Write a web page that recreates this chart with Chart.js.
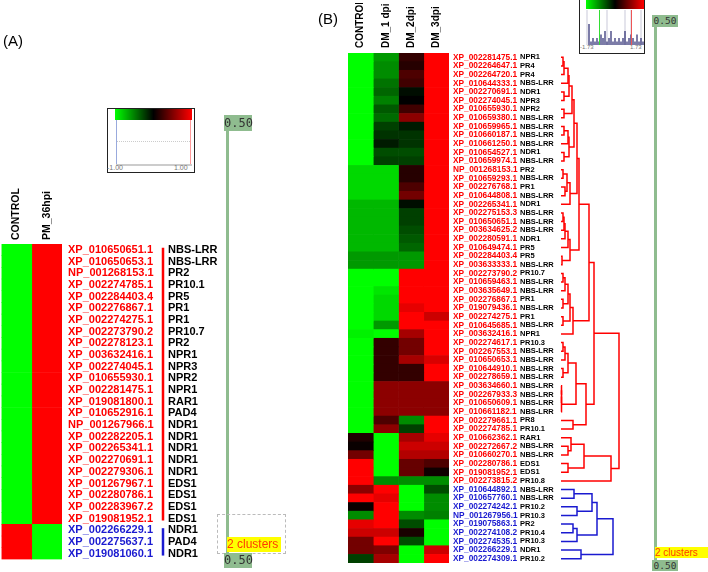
<!DOCTYPE html>
<html>
<head>
<meta charset="utf-8">
<script src="https://cdn.jsdelivr.net/npm/chart.js@4.4.0/dist/chart.umd.min.js"></script>
<style>
  html, body { margin: 0; padding: 0; background: #fff; }
  #wrap { position: relative; width: 708px; height: 572px; overflow: hidden; font-family: 'Liberation Sans', Arial, sans-serif; }
  #wrap canvas { position: absolute; }
  .abs { position: absolute; }
  .panel { font-size: 15px; color: #000; }
  .cutline { position: absolute; background: #8fbc8f; }
  .cut { position: absolute; background: #8fbc8f; color: #333; font-family: 'DejaVu Sans Mono', monospace; text-align: center; }
  .clusters { position: absolute; background: #ffff00; color: #ff3c00; font-family: 'Liberation Sans', Arial, sans-serif; white-space: nowrap; }
  .legbox { position: absolute; border: 1.5px solid #222; background: #fff; box-sizing: border-box; }
  .ramp { position: absolute; background: linear-gradient(to right, #00ff00, #000 50%, #ff0000); }
  .tiny { position: absolute; color: #777; font-size: 7px; white-space: nowrap; }
</style>
</head>
<body>
<div id="wrap">
  <canvas id="heatA" width="330" height="572" style="left:0; top:0;"></canvas>
  <canvas id="heatB" width="378" height="572" style="left:330px; top:0;"></canvas>

  <div class="abs panel" style="left:3px; top:32px;">(A)</div>
  <div class="abs panel" style="left:318px; top:10px;">(B)</div>

  <!-- colour key A -->
  <div class="legbox" style="left:107px; top:108px; width:88px; height:65px;">
    <div class="ramp" style="left:7px; top:0; width:77px; height:11px;"></div>
    <div class="abs" style="left:8px; top:11px; width:1px; height:44px; background:#9ad;"></div>
    <div class="abs" style="left:82px; top:11px; width:1px; height:44px; background:#f99;"></div>
    <div class="abs" style="left:9px; top:32px; width:73px; border-top:1px dotted #ccc;"></div>
    <div class="abs" style="left:8px; top:55px; width:76px; height:2px; background:#ccc;"></div>
    <div class="tiny" style="left:-1px; top:55px;">-1.00</div>
    <div class="tiny" style="left:66px; top:55px;">1.00</div>
  </div>

  <!-- colour key B -->
  <div class="legbox" style="left:579px; top:-1px; width:66px; height:55px;">
    <div class="ramp" style="left:6px; top:0; width:58px; height:9px;"></div>
    <div class="tiny" style="left:0px; top:44px; font-size:6px;">-1.73</div>
    <div class="tiny" style="left:50px; top:44px; font-size:6px;">1.73</div>
  </div>
  <canvas id="histB" width="58" height="35" style="left:586px; top:10px;"></canvas>
  <div class="abs" style="left:599px; top:10px; width:1px; height:35px; background:#33dd33;"></div>
  <div class="abs" style="left:631px; top:10px; width:1px; height:35px; background:#ee5555;"></div>

  <!-- cut line A -->
  <div class="cutline" style="left:226px; top:131px; width:3px; height:422px;"></div>
  <div class="cut" style="left:224px; top:115px; width:28px; height:16px; font-size:12px; line-height:16px;">0.50</div>
  <div class="abs" style="left:217px; top:514px; width:69px; height:40px; border:1px dashed #bbb; box-sizing:border-box;"></div>
  <div class="clusters" style="left:227px; top:537px; width:54px; height:15px; font-size:12px; line-height:15px;">2 clusters</div>
  <div class="cut" style="left:224px; top:553px; width:28px; height:15px; font-size:12px; line-height:15px;">0.50</div>

  <!-- cut line B -->
  <div class="cutline" style="left:654px; top:27px; width:3px; height:533px;"></div>
  <div class="cut" style="left:652px; top:15px; width:26px; height:12px; font-size:9.5px; line-height:12px;">0.50</div>
  <div class="clusters" style="left:655px; top:547px; width:53px; height:11px; font-size:10px; line-height:11px;">2 clusters</div>
  <div class="cut" style="left:652px; top:560px; width:26px; height:11px; font-size:9.5px; line-height:11px;">0.50</div>
</div>

<script>
// ---- Panel A data (PM 36 hpi) ----
const colsA = ['CONTROL', 'PM_36hpi'];
const idsA = [
  'XP_010650651.1', 'XP_010650653.1', 'NP_001268153.1', 'XP_002274785.1', 'XP_002284403.4',
  'XP_002276867.1', 'XP_002274275.1', 'XP_002273790.2', 'XP_002278123.1', 'XP_003632416.1',
  'XP_002274045.1', 'XP_010655930.1', 'XP_002281475.1', 'XP_019081800.1', 'XP_010652916.1',
  'NP_001267966.1', 'XP_002282205.1', 'XP_002265341.1', 'XP_002270691.1', 'XP_002279306.1',
  'XP_001267967.1', 'XP_002280786.1', 'XP_002283967.2', 'XP_019081952.1',
  'XP_002266229.1', 'XP_002275637.1', 'XP_019081060.1'
];
const genesA = [
  'NBS-LRR', 'NBS-LRR', 'PR2', 'PR10.1', 'PR5', 'PR1', 'PR1', 'PR10.7', 'PR2', 'NPR1',
  'NPR3', 'NPR2', 'NPR1', 'RAR1', 'PAD4', 'NDR1', 'NDR1', 'NDR1', 'NDR1', 'NDR1',
  'EDS1', 'EDS1', 'EDS1', 'EDS1', 'NDR1', 'PAD4', 'NDR1'
];
const controlA = [-1,-1,-1,-1,-1,-1,-1,-1,-1,-1,-1,-1,-1,-1,-1,-1,-1,-1,-1,-1,-1,-1,-1,-1, 1, 1, 1];
const pm36A    = [ 1, 1, 1, 1, 1, 1, 1, 1, 1, 1, 1, 1, 1, 1, 1, 1, 1, 1, 1, 1, 1, 1, 1, 1,-1,-1,-1];
const redRowsA = 24;

// ---- Panel B data (DM 1-3 dpi) ----
const colsB = ['CONTROL', 'DM_1 dpi', 'DM_2dpi', 'DM_3dpi'];
const idsB = [
  'XP_002281475.1', 'XP_002264647.1', 'XP_002264720.1', 'XP_010644333.1', 'XP_002270691.1',
  'XP_002274045.1', 'XP_010655930.1', 'XP_010659380.1', 'XP_010659965.1', 'XP_010660187.1',
  'XP_010661250.1', 'XP_010654527.1', 'XP_010659974.1', 'NP_001268153.1', 'XP_010659293.1',
  'XP_002276768.1', 'XP_010644808.1', 'XP_002265341.1', 'XP_002275153.3', 'XP_010650651.1',
  'XP_003634625.2', 'XP_002280591.1', 'XP_010649474.1', 'XP_002284403.4', 'XP_003633333.1',
  'XP_002273790.2', 'XP_010659463.1', 'XP_003635649.1', 'XP_002276867.1', 'XP_019079436.1',
  'XP_002274275.1', 'XP_010645685.1', 'XP_003632416.1', 'XP_002274617.1', 'XP_002267553.1',
  'XP_010650653.1', 'XP_010644910.1', 'XP_002278659.1', 'XP_003634660.1', 'XP_002267933.3',
  'XP_010650609.1', 'XP_010661182.1', 'XP_002279661.1', 'XP_002274785.1', 'XP_010662362.1',
  'XP_002272667.2', 'XP_010660270.1', 'XP_002280786.1', 'XP_019081952.1', 'XP_002273815.2',
  'XP_010644892.1', 'XP_010657760.1', 'XP_002274242.1', 'NP_001267956.1', 'XP_019075863.1',
  'XP_002274108.2', 'XP_002274535.1', 'XP_002266229.1', 'XP_002274309.1'
];
const genesB = [
  'NPR1', 'PR4', 'PR4', 'NBS-LRR', 'NDR1', 'NPR3', 'NPR2', 'NBS-LRR', 'NBS-LRR', 'NBS-LRR',
  'NBS-LRR', 'NDR1', 'NBS-LRR', 'PR2', 'NBS-LRR', 'PR1', 'NBS-LRR', 'NDR1', 'NBS-LRR', 'NBS-LRR',
  'NBS-LRR', 'NDR1', 'PR5', 'PR5', 'NBS-LRR', 'PR10.7', 'NBS-LRR', 'NBS-LRR', 'PR1', 'NBS-LRR',
  'PR1', 'NBS-LRR', 'NPR1', 'PR10.3', 'NBS-LRR', 'NBS-LRR', 'NBS-LRR', 'NBS-LRR', 'NBS-LRR', 'NBS-LRR',
  'NBS-LRR', 'NBS-LRR', 'PR8', 'PR10.1', 'RAR1', 'NBS-LRR', 'NBS-LRR', 'EDS1', 'EDS1', 'PR10.8',
  'NBS-LRR', 'NBS-LRR', 'PR10.2', 'PR10.3', 'PR2', 'PR10.4', 'PR10.3', 'NDR1', 'PR10.2'
];
const controlB = [
  -1, -1, -1, -1, -1, -1, -1, -1, -1, -1, -1, -1, -1, -0.85, -0.85, -0.85, -0.85, -0.72, -0.72, -0.72,
  -0.72, -0.72, -0.72, -0.6, -0.6, -1, -1, -1, -1, -1, -1, -1, -0.95, -1, -1, -1, -1, -1, -1, -1,
  -1, -1, -1, -1, 0.12, 0.04, 0.45, 1, 1, 1, 0.55, 1, 0.04, -0.55, 0.9, 0.8, 0.45, 0.45, -0.25
];
const dm1B = [
  -0.6, -0.55, -0.55, -0.45, -0.4, -0.5, -0.35, -0.42, -0.25, -0.2, -0.1, -0.3, -0.25, -0.85, -0.85, -0.85, -0.85, -0.72, -0.72, -0.72,
  -0.72, -0.72, -0.72, -0.6, -0.6, -1, -1, -0.9, -0.85, -0.85, -0.85, -0.6, -1, 0.2, 0.2, 0.2, 0.2, 0.2, 0.55, 0.55,
  0.55, 0.55, 0.3, 0.55, -1, -1, -1, -1, -1, -0.55, 1, 0.9, 1, 1, 1, 0.8, 1, 0.5, 0.65
];
const dm2B = [
  0.2, 0.15, 0.3, 0.25, -0.05, 0, 0.25, 0.55, -0.1, -0.2, -0.2, -0.3, -0.25, 0.15, 0.15, 0.3, 0.45, -0.05, -0.25, -0.25,
  -0.3, -0.35, -0.4, -0.6, -0.6, 1, 1, 1, 1, 0.9, 1, 1, 0.65, 0.45, 0.45, 0.65, 0.2, 0.2, 0.55, 0.55,
  0.55, 0.55, -0.55, -0.25, 0.65, 0.8, 0.7, 0.4, 0.4, -0.55, -1, -1, -1, -0.55, -0.3, 0.1, -0.3, -1, -1
];
const dm3B = [
  1, 1, 1, 1, 1, 1, 1, 1, 1, 1, 1, 1, 1, 1, 1, 1, 1, 1, 1, 1,
  1, 1, 1, 1, 1, 1, 1, 1, 1, 1, 0.8, 1, 1, 1, 1, 0.85, 1, 1, 0.55, 0.55,
  0.55, 0.55, 1, 1, 0.9, 0.8, 0.7, 0.3, 0.06, -0.55, -0.3, -0.55, -0.55, -0.5, -1, -1, -1, 0.8, 1
];
const redRowsB = 50;

// dendrogram of panel B: [height, left, right], leaves are row numbers (1-based)
const treeRedB = [0.58,
  [0.33,
    [0.28,
      [0.18,
        [0.16,
          [0.13,
            [0.11, [0.08, [0.07, [0.03, [0.02, 1, 2], 3], 4], [0.03, 5, 6]], [0.03, 7, 8]],
            [0.08, [0.07, [0.03, 9, 10], 11], [0.03, 12, 13]]
          ],
          [0.09, [0.06, [0.02, 14, 15], [0.04, 16, 17]], 18]
        ],
        [0.09, [0.07, [0.04, [0.03, [0.02, 19, 20], 21], 22], 23], [0.01, 24, 25]]
      ],
      [0.12, [0.09, [0.07, [0.04, [0.02, 26, 27], 28], [0.02, 29, 30]], [0.02, 31, 32]], 33]
    ],
    [0.25, [0.15, [0.07, [0.04, [0.02, 34, 35], 36], [0.02, 37, 38]], [0.005, [0.005, [0.005, 39, 40], 41], 42]], [0.12, 43, 44]]
  ],
  [0.50, [0.23, [0.10, 45, [0.07, 46, 47]], [0.07, 48, 49]], 50]
];
const treeBlueB = [0.52, [0.36, [0.31, [0.13, 51, 52], [0.16, 53, 54]], [0.16, [0.12, 55, 56], 57]], [0.20, 58, 59]];

// colour-key histogram of panel B (counts per bin, -1.73 .. 1.73)
const histCountsB = [0, 6, 1, 2, 1, 2, 1, 3, 2, 4, 1, 2, 4, 1, 2, 1, 2, 1, 2, 4, 1, 2, 3, 2, 1, 3, 1, 2, 1];
const histGuideB  = [10, 0, 0, 0, 0, 0, 0, 0, 0, 0, 10, 0, 0, 0, 0, 0, 0, 0, 0, 10, 0, 0, 10, 0, 0, 0, 0, 10, 0];

const RED = '#ff0000';
const BLUE = '#1a1ad0';

function heatColor(v) {
  return v >= 0 ? `rgb(${Math.round(255 * v)},0,0)` : `rgb(0,${Math.round(-255 * v)},0)`;
}

function heatDatasets(columns) {
  return columns.map(col => ({
    data: col.map(() => 1),
    backgroundColor: col.map(heatColor),
    borderWidth: 0,
    barPercentage: 1,
    categoryPercentage: 1
  }));
}

// draws a dendrogram node, returns its anchor point
function drawNode(ctx, node, yScale, x0, k) {
  if (typeof node === 'number') return { x: x0, y: yScale.getPixelForValue(node - 1) };
  const a = drawNode(ctx, node[1], yScale, x0, k);
  const b = drawNode(ctx, node[2], yScale, x0, k);
  const x = x0 + node[0] * k;
  ctx.beginPath();
  ctx.moveTo(a.x, a.y); ctx.lineTo(x, a.y); ctx.lineTo(x, b.y); ctx.lineTo(b.x, b.y);
  ctx.stroke();
  return { x, y: (a.y + b.y) / 2 };
}

const font = (size) => ({ family: "'Liberation Sans', Arial, sans-serif", size, weight: 'bold' });

function heatOptions(o) {
  return {
    indexAxis: 'y',
    responsive: false,
    animation: false,
    events: [],
    layout: { padding: o.padding },
    plugins: { legend: { display: false }, tooltip: { enabled: false } },
    scales: {
      x: { stacked: true, min: 0, max: o.cols.length, display: false },
      top: {
        type: 'category', axis: 'x', labels: o.cols, position: 'top', offset: true,
        grid: { display: false, drawTicks: false }, border: { display: false },
        ticks: { minRotation: 90, maxRotation: 90, padding: o.colPad, labelOffset: o.colSize * 1.2,
                 color: '#000', font: font(o.colSize) },
        afterFit: s => { s.height = o.topH; }
      },
      y: {
        stacked: true, position: 'right', offset: true, weight: 0,
        grid: { display: false, drawTicks: false }, border: { display: false },
        ticks: { autoSkip: false, padding: o.idPad, font: font(o.idSize),
                 color: c => c.index < o.redRows ? RED : BLUE },
        afterFit: s => { s.width = o.idW; }
      },
      gene: {
        type: 'category', axis: 'y', labels: o.genes, position: 'right', offset: true, weight: 1,
        grid: { display: false, drawTicks: false }, border: { display: false },
        ticks: { autoSkip: false, padding: o.genePad, color: '#000', font: font(o.geneSize) },
        afterFit: s => { s.width = o.geneW; }
      }
    }
  };
}

// Panel A: cluster bars between ids and gene names
const barsA = {
  id: 'barsA',
  afterDraw(chart) {
    const { ctx, scales } = chart;
    const y = scales.y;
    const x = y.right - 3;
    ctx.save();
    ctx.lineWidth = 2.5;
    [[0, redRowsA - 1, RED], [redRowsA, idsA.length - 1, BLUE]].forEach(([a, b, c]) => {
      ctx.strokeStyle = c;
      ctx.beginPath();
      ctx.moveTo(x, y.getPixelForValue(a) - 2);
      ctx.lineTo(x, y.getPixelForValue(b) + 2);
      ctx.stroke();
    });
    ctx.restore();
  }
};

// Panel B: hierarchical tree right of gene names
const treeB = {
  id: 'treeB',
  afterDraw(chart) {
    const { ctx, scales } = chart;
    const x0 = scales.gene.right;
    ctx.save();
    ctx.lineWidth = 1.5;
    ctx.strokeStyle = RED;
    drawNode(ctx, treeRedB, scales.y, x0, 100);
    ctx.strokeStyle = BLUE;
    drawNode(ctx, treeBlueB, scales.y, x0, 100);
    ctx.restore();
  }
};

new Chart(document.getElementById('heatA'), {
  type: 'bar',
  data: { labels: idsA, datasets: heatDatasets([controlA, pm36A]) },
  options: heatOptions({
    cols: colsA, genes: genesA, redRows: redRowsA,
    padding: { left: 0, top: 164, right: 104, bottom: 4 },
    topH: 80, colPad: 4, colSize: 10.5,
    idW: 104, idPad: 6, idSize: 11,
    geneW: 60, genePad: 2, geneSize: 11
  }),
  plugins: [barsA]
});

new Chart(document.getElementById('heatB'), {
  type: 'bar',
  data: { labels: idsB, datasets: heatDatasets([controlB, dm1B, dm2B, dm3B]) },
  options: heatOptions({
    cols: colsB, genes: genesB, redRows: redRowsB,
    padding: { left: 18, top: 3, right: 147, bottom: 1 },
    topH: 50, colPad: 5, colSize: 10,
    idW: 71, idPad: 4, idSize: 8.3,
    geneW: 41, genePad: 0, geneSize: 7.5
  }),
  plugins: [treeB]
});

// small histogram inside the colour key of panel B
new Chart(document.getElementById('histB'), {
  type: 'bar',
  data: {
    labels: histCountsB.map((_, i) => i),
    datasets: [
      { data: histCountsB, backgroundColor: '#26266e', barPercentage: 0.6, categoryPercentage: 1, grouped: false, order: 0 },
      { data: histGuideB, backgroundColor: '#c9c9d9', barPercentage: 0.5, categoryPercentage: 1, grouped: false, order: 1 }
    ]
  },
  options: {
    responsive: false,
    animation: false,
    events: [],
    layout: { padding: 0 },
    plugins: { legend: { display: false }, tooltip: { enabled: false } },
    scales: { x: { display: false }, y: { display: false, min: 0, max: 10 } }
  }
});
</script>
</body>
</html>
